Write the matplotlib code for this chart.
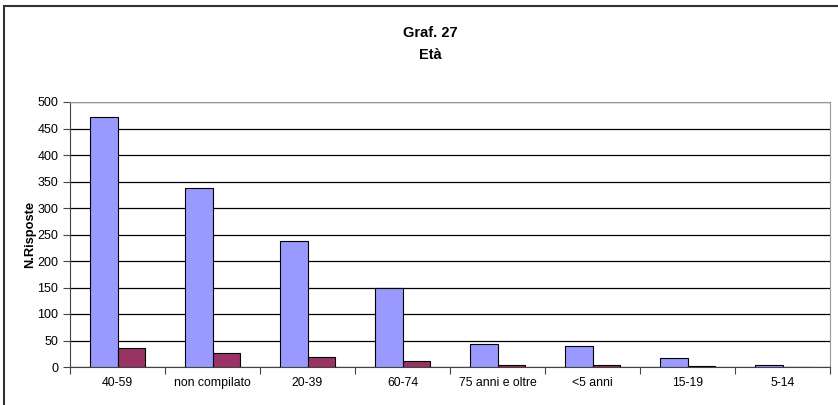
import numpy as np
import matplotlib.pyplot as plt
from matplotlib.patches import Rectangle

plt.rcParams['font.family'] = ['Liberation Sans', 'DejaVu Sans']

# data
categories = ['40-59', 'non compilato', '20-39', '60-74', '75 anni e oltre',
              '<5 anni', '15-19', '5-14']
serie_a = [471, 338, 237, 149, 44, 39, 17, 3]
serie_b = [36, 27, 18, 12, 4, 3, 1, 0]
y_ticks = [0, 50, 100, 150, 200, 250, 300, 350, 400, 450, 500]

fig = plt.figure(figsize=(8.38, 4.05), dpi=100)
ax = fig.add_axes([70/838, 1 - 367/405, 760/838, 265/405])

x = np.arange(len(categories))
w = 0.285
ax.bar(x - w/2, serie_a, w, color='#9999FF', edgecolor='black', linewidth=0.8, zorder=3)
ax.bar(x + w/2, serie_b, w, color='#993366', edgecolor='black', linewidth=0.8, zorder=3)

ax.set_xlim(-0.5, len(categories) - 0.5)
ax.set_ylim(0, 500)
ax.set_yticks(y_ticks)
ax.yaxis.grid(True, color='black', linewidth=0.9, zorder=0)
ax.set_axisbelow(True)

# category ticks sit between the groups, labels in the middle
ax.set_xticks(np.arange(len(categories) + 1) - 0.5)
ax.set_xticklabels([])
ax.set_xticks(x, minor=True)
ax.set_xticklabels(categories, minor=True)
ax.tick_params(axis='x', which='minor', length=0, pad=7, labelsize=8.8)
ax.tick_params(axis='x', which='major', length=5, direction='out', color='#444444')
ax.tick_params(axis='y', length=5, direction='out', labelsize=9, color='#444444')

for side in ['top', 'right']:
    ax.spines[side].set_color('#999999')
for side in ['left', 'bottom']:
    ax.spines[side].set_color('#444444')

ax.set_ylabel('N.Risposte', fontsize=9.3, fontweight='bold')
ax.yaxis.set_label_coords((36 - 70) / 760, 0.5)

fig.text(430/838, 1 - 33/405, 'Graf. 27', ha='center', va='center',
         fontsize=10.5, fontweight='bold')
fig.text(430/838, 1 - 55/405, 'Età', ha='center', va='center',
         fontsize=10.5, fontweight='bold')

# outer chart frame (cropped at right and bottom)
fig.patches.append(Rectangle((4/838, -0.1), 2, 1.1 - 6/405, transform=fig.transFigure,
                             fill=False, edgecolor='#333333', linewidth=1.5))

fig.savefig('out.png', dpi=100)
